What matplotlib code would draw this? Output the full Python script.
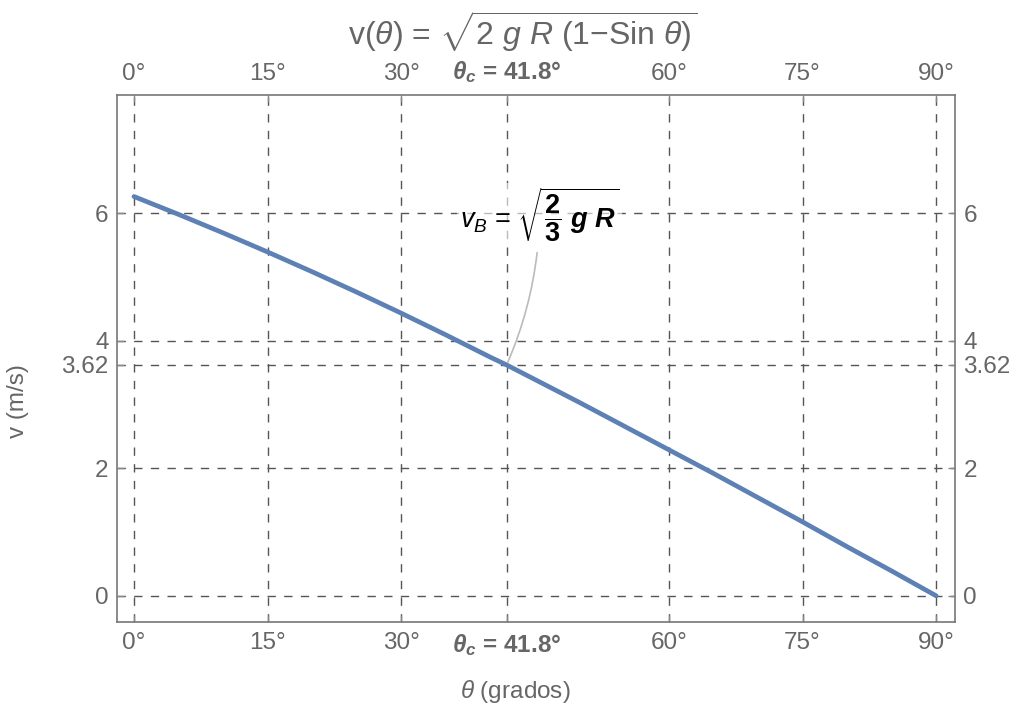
import numpy as np
import matplotlib
matplotlib.use('Agg')
import matplotlib.pyplot as plt

plt.rcParams['font.family'] = ['Liberation Sans', 'DejaVu Sans']
plt.rcParams['mathtext.fontset'] = 'custom'
plt.rcParams['mathtext.rm'] = 'Liberation Sans'
plt.rcParams['mathtext.it'] = 'Liberation Sans:italic'
plt.rcParams['mathtext.bf'] = 'Liberation Sans:bold'
plt.rcParams['mathtext.bfit'] = 'Liberation Sans:bold:italic'

# velocidad a lo largo del arco (g = 9.8, R = 2)
theta = [0, 5, 10, 15, 20, 25, 30, 35, 40, 41.8, 45, 50, 55, 60, 65, 70, 75, 80, 85, 90]
v = [6.26, 5.98, 5.69, 5.39, 5.08, 4.76, 4.43, 4.09, 3.74, 3.62, 3.39, 3.03,
     2.66, 2.29, 1.92, 1.54, 1.16, 0.77, 0.39, 0.0]

theta_c = 41.8
v_b = 3.62
xticks = [0, 15, 30, theta_c, 60, 75, 90]
xlabels = ['0°', '15°', '30°', r'$\mathbfit{\theta_c}$ = 41.8°', '60°', '75°', '90°']
yticks = [0, 2, v_b, 4, 6]
ylabels = ['0', '2', '3.62', '4', '6']

gris = '#666666'
fig = plt.figure(figsize=(10.16, 7.15), dpi=100)
ax = fig.add_axes([0.1152, 0.130, 0.8248, 0.737])
ax.plot(theta, v, color='#5E81B5', lw=3.4, solid_capstyle='round', zorder=3)

ax.set_xlim(-1.9, 92.1)
ax.set_ylim(-0.41, 7.85)
ax.set_xticks(xticks)
ax.set_xticklabels(xlabels)
ax.set_yticks(yticks)
ax.set_yticklabels(ylabels)
ax.tick_params(axis='both', direction='in', length=5, width=1, color='#888888',
               labelcolor=gris, labelsize=17.5, top=True, right=True,
               labeltop=True, labelright=True, pad=6)
ax.tick_params(axis='x', which='major', pad=7)
for t in ax.xaxis.get_major_ticks():
    if abs(t.get_loc() - theta_c) < 1e-6:
        t.label1.set_fontweight('bold')
        t.label2.set_fontweight('bold')
for s in ax.spines.values():
    s.set_color('#777777')
    s.set_linewidth(1.2)

ax.grid(True, ls=(0, (6, 6)), color='#555555', lw=1.0)

ax.set_xlabel(r'$\theta$ (grados)', fontsize=17.5, color=gris)
ax.xaxis.set_label_coords(0.475, -0.106)
ax.set_ylabel('v (m/s)', fontsize=17.5, color=gris)
ax.yaxis.set_label_coords(-0.105, 0.42)

fig.text(0.515, 0.955, r'v($\theta$) = $\sqrt{2\ g\ R\ (1{-}\mathrm{Sin}\ \theta)}$',
         ha='center', va='center', fontsize=23, color=gris)

ax.annotate(r'$v_B$ = $\sqrt{\mathbf{\dfrac{2}{3}}\ \mathbfit{g\ R}}$',
            xy=(theta_c, v_b), xytext=(45.5, 5.97), fontsize=19.5, ha='center', va='center',
            bbox=dict(boxstyle='square,pad=0.1', fc='white', ec='none', alpha=0.6),
            arrowprops=dict(arrowstyle='-', color='#bbbbbb', lw=1.2, shrinkA=4, shrinkB=2,
                            connectionstyle='arc3,rad=-0.1'), zorder=4)

fig.savefig('out.png', dpi=100)
